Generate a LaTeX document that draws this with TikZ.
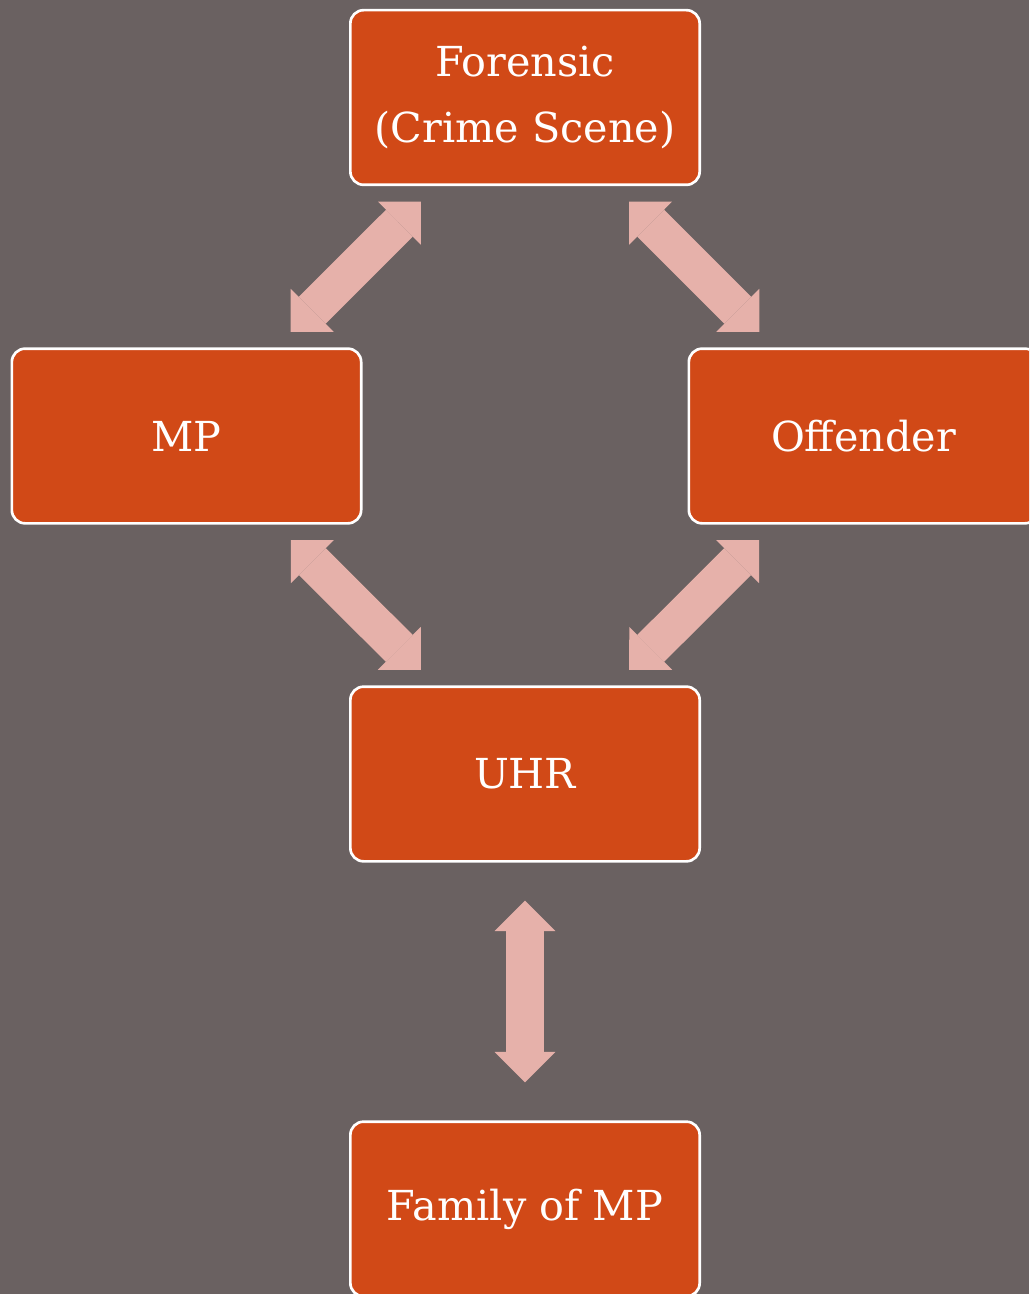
\documentclass[tikz,border=0pt]{standalone}
\usepackage{fontspec}
\setmainfont{DejaVu Serif}
\usetikzlibrary{arrows.meta}

\definecolor{slate}{HTML}{6A6161}
\definecolor{rust}{HTML}{D14917}
\definecolor{blush}{HTML}{E6B1AA}

\begin{document}
\begin{tikzpicture}[x=0.75pt, y=-0.75pt,
	box/.style={rectangle, rounded corners=10pt, draw=white, line width=2pt, fill=rust, text=white, minimum width=262pt, minimum height=131pt, inner sep=0pt, align=center, font=\fontsize{31}{49}\selectfont},
	link/.style={draw=blush, line width=28.5pt, <->, >={Triangle[length=22.8pt, width=45.6pt, line width=0pt, color=blush, fill=blush]}, shorten <=16.5pt, shorten >=16.5pt}]
			\useasboundingbox (0,0) rectangle (1029,1294);
			\clip (0,0) rectangle (1029,1294);
			\fill[slate] (0,0) rectangle (1029,1294);
			
			\node[box] (fs) at (525,97.5) {Forensic\\(Crime Scene)};
			\node[box] (mp) at (186.5,436) {MP};
			\node[box] (off) at (863.5,436) {Offender};
			\node[box] (uhr) at (525,774) {UHR};
			\node[box] (fam) at (525,1209) {Family of MP};
			
			\path[link] (fs) edge (mp);
			\path[link] (fs) edge (off);
			\path[link] (mp) edge (uhr);
			\path[link] (off) edge (uhr);
			\path[link, shorten <=28.5pt, shorten >=28.5pt] (uhr) edge (fam);
			\end{tikzpicture}
\end{document}
